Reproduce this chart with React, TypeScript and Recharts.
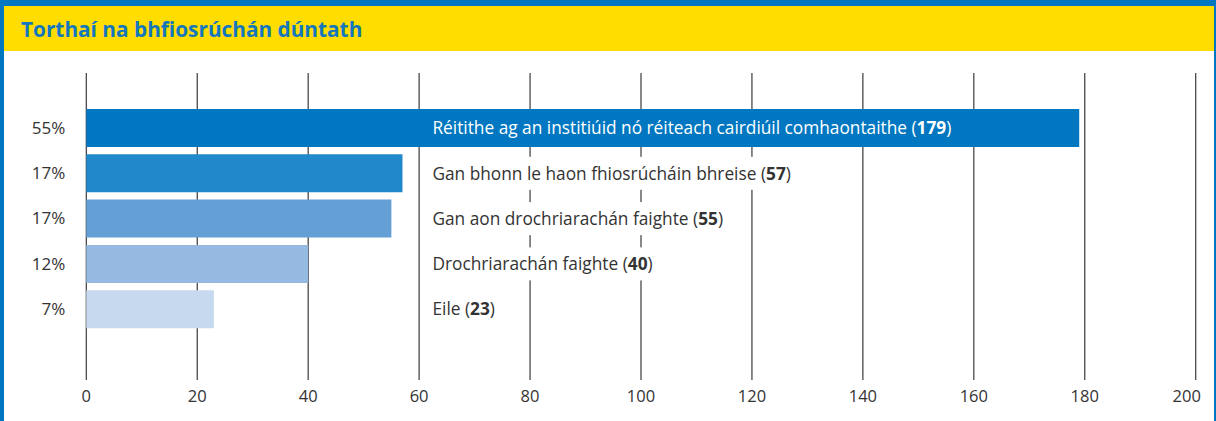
import React from 'react';
import { BarChart, Bar, XAxis, YAxis, CartesianGrid, Cell, LabelList } from 'recharts';

const categories = [
  'Réitithe ag an institiúid nó réiteach cairdiúil comhaontaithe',
  'Gan bhonn le haon fhiosrúcháin bhreise',
  'Gan aon drochriarachán faighte',
  'Drochriarachán faighte',
  'Eile',
];
const counts = [179, 57, 55, 40, 23];
const percents = ['55%', '17%', '17%', '12%', '7%'];
const xTicks = [0, 20, 40, 60, 80, 100, 120, 140, 160, 180, 200];
const barColors = ['#0077C0', '#2288CC', '#64A0D5', '#95B9E0', '#C7D9EF'];
const title = 'Torthaí na bhfiosrúchán dúntath';

const X_MAX = 200;
const LABEL_AT = 62.4; // label column position in axis units

const data = categories.map((name, i) => ({ name, value: counts[i], pct: percents[i] }));

const FONT = '"Open Sans", "Noto Sans", sans-serif';
const TEXT = '#333333';

const CHART_W = 1216;
const CHART_H = 370;
const MARGIN = { top: 22, right: 20.3, bottom: 11, left: 0 };
const Y_W = 86.3;
const PLOT_W = CHART_W - MARGIN.left - MARGIN.right - Y_W;
const LABEL_FS = 17.3;

let ctx: CanvasRenderingContext2D | null = null;
function measure(s: string, weight: number): number {
  if (!ctx) ctx = document.createElement('canvas').getContext('2d');
  if (!ctx) return s.length * LABEL_FS * 0.5;
  ctx.font = `${weight} ${LABEL_FS}px "Open Sans"`;
  return ctx.measureText(s).width;
}

const renderLabel = (props: any) => {
  const { x, y, width, height, value } = props;
  let index = props.index;
  if (typeof index !== 'number') index = categories.indexOf(value);
  const unit = PLOT_W / X_MAX;
  const lx = Number(x) + LABEL_AT * unit;
  const cy = Number(y) + Number(height) / 2;
  const inside = Number(x) + Number(width) > lx + 10;
  const text = categories[index];
  const num = String(counts[index]);
  const w = measure(text + ' (', 400) + measure(num, 700) + measure(')', 400);
  return (
    <g>
      {!inside && <rect x={lx - 8} y={cy - 16.5} width={w + 14} height={33} fill="#ffffff" />}
      <text x={lx} y={cy} dy="0.36em" fill={inside ? '#ffffff' : TEXT} fontSize={LABEL_FS} fontFamily={FONT}>
        {text + ' ('}
        <tspan fontWeight={700}>{num}</tspan>
        {')'}
      </text>
    </g>
  );
};

const YTick = (props: any) => {
  const { x, y, payload } = props;
  const i = categories.indexOf(payload.value);
  return (
    <text x={x} y={y} dy="0.36em" textAnchor="end" fontSize={17} fill={TEXT} fontFamily={FONT}>
      {percents[i]}
    </text>
  );
};

const XTick = (props: any) => {
  const { x, y, payload } = props;
  const shift = payload.value === X_MAX ? -9 : 0;
  return (
    <text x={x + shift} y={y} dy="0.71em" textAnchor="middle" fontSize={16.5} fill={TEXT} fontFamily={FONT}>
      {payload.value}
    </text>
  );
};

export default function App() {
  return (
    <div style={{ position: 'absolute', left: 0, top: 0, width: 1216, height: 421, background: '#0077C0', overflow: 'hidden', fontFamily: FONT }}>
      <div style={{ position: 'absolute', left: 4, top: 6, width: 1210, height: 415, background: '#ffffff' }}>
        <div style={{ height: 45, background: '#FFDD00', display: 'flex', alignItems: 'center', paddingLeft: 17 }}>
          <span style={{ color: '#1277BD', fontWeight: 700, fontSize: 20.8, fontFamily: FONT }}>{title}</span>
        </div>
      </div>
      <div style={{ position: 'absolute', left: 0, top: 51 }}>
        <BarChart width={CHART_W} height={CHART_H} data={data} layout="vertical" margin={MARGIN}>
          <CartesianGrid vertical horizontal={false} stroke="#3a3a3a" strokeWidth={1.2} />
          <XAxis
            type="number"
            domain={[0, X_MAX]}
            ticks={xTicks}
            interval={0}
            axisLine={false}
            tickLine={false}
            tickSize={0}
            tickMargin={10}
            height={30}
            tick={<XTick />}
          />
          <YAxis
            type="category"
            dataKey="name"
            width={Y_W}
            axisLine={false}
            tickLine={false}
            tickSize={0}
            tickMargin={21}
            padding={{ top: 32, bottom: 48.5 }}
            tick={<YTick />}
            interval={0}
          />
          <Bar dataKey="value" barSize={38} isAnimationActive={false}>
            {data.map((d, i) => (
              <Cell key={d.name} fill={barColors[i]} />
            ))}
            <LabelList dataKey="name" content={renderLabel} />
          </Bar>
        </BarChart>
      </div>
    </div>
  );
}
